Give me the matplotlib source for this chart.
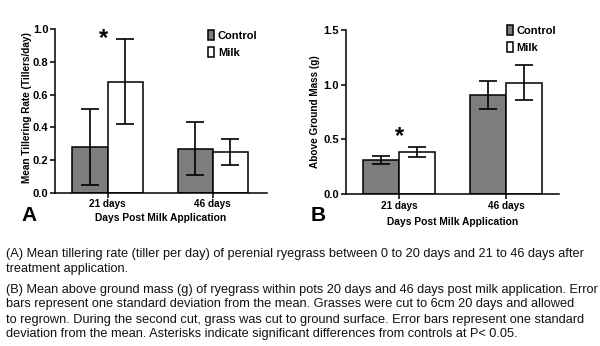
import numpy as np
import matplotlib
matplotlib.use('Agg')
import matplotlib.pyplot as plt
from matplotlib.patches import Patch

plt.rcParams['font.family'] = ['Liberation Sans', 'DejaVu Sans']

groups = ['21 days', '46 days']

# tillering rate (tillers/day)
till_control = [0.28, 0.27]
till_control_sd = [0.23, 0.16]
till_milk = [0.68, 0.25]
till_milk_sd = [0.26, 0.08]

# above ground mass (g)
mass_control = [0.31, 0.905]
mass_control_sd = [0.035, 0.127]
mass_milk = [0.385, 1.02]
mass_milk_sd = [0.043, 0.157]

caption_lines = [
    "(A) Mean tillering rate (tiller per day) of perenial ryegrass between 0 to 20 days and 21 to 46 days after",
    "treatment application.",
    "(B) Mean above ground mass (g) of ryegrass within pots 20 days and 46 days post milk application. Error",
    "bars represent one standard deviation from the mean. Grasses were cut to 6cm 20 days and allowed",
    "to regrown. During the second cut, grass was cut to ground surface. Error bars represent one standard",
    "deviation from the mean. Asterisks indicate significant differences from controls at P< 0.05.",
]
caption_baselines = [257, 272, 292.5, 307.5, 322.5, 337.5]  # pixels from top

grey = '#7d7d7d'
w = 0.335
fig = plt.figure(figsize=(6, 3.46), dpi=100)
axA = fig.add_axes([0.0917, 0.443, 0.353, 0.472])
axB = fig.add_axes([0.576, 0.439, 0.356, 0.474])


def draw(ax, ctrl, ctrl_sd, milk, milk_sd, ylim, yticks, xright, xpad):
    x = np.arange(len(groups))
    err = dict(ecolor='black', elinewidth=1.2, capsize=6.5, capthick=1.2)
    ax.bar(x - w / 2, ctrl, w, yerr=ctrl_sd, color=grey, edgecolor='black',
           linewidth=1.1, error_kw=err, zorder=2)
    ax.bar(x + w / 2, milk, w, yerr=milk_sd, color='white', edgecolor='black',
           linewidth=1.1, error_kw=err, zorder=2)
    ax.set_xlim(-0.5, xright)
    ax.set_ylim(*ylim)
    ax.set_yticks(yticks)
    ax.set_xticks(x)
    ax.set_xticklabels(groups, fontsize=7.2, fontweight='bold')
    ax.yaxis.set_major_formatter(matplotlib.ticker.FormatStrFormatter('%.1f'))
    for lab in ax.get_yticklabels():
        lab.set_fontweight('bold')
        lab.set_fontsize(8)
    for s in ['top', 'right']:
        ax.spines[s].set_visible(False)
    for s in ['left', 'bottom']:
        ax.spines[s].set_linewidth(1.1)
    ax.tick_params(direction='out', length=3.5, width=1.1, pad=1.2)
    ax.set_xlabel('Days Post Milk Application', fontsize=7.4, fontweight='bold', labelpad=xpad)


draw(axA, till_control, till_control_sd, till_milk, till_milk_sd, (0, 1.0),
     [0, 0.2, 0.4, 0.6, 0.8, 1.0], 1.514, 3)
draw(axB, mass_control, mass_control_sd, mass_milk, mass_milk_sd, (0, 1.5),
     [0, 0.5, 1.0, 1.5], 1.495, 4.5)

fig.text(0.045, 0.688, 'Mean Tillering Rate (Tillers/day)', rotation=90, ha='center',
         va='center', fontsize=7.2, fontweight='bold')
fig.text(0.525, 0.676, 'Above Ground Mass (g)', rotation=90, ha='center',
         va='center', fontsize=7.2, fontweight='bold')

# significance markers
axA.text(-0.04, 0.945, '*', ha='center', va='center', fontsize=17, fontweight='bold')
axB.text(0.0, 0.53, '*', ha='center', va='center', fontsize=17, fontweight='bold')

handles = [Patch(facecolor=grey, edgecolor='black', linewidth=1.1, label='Control'),
           Patch(facecolor='white', edgecolor='black', linewidth=1.1, label='Milk')]
for ax, anchor in [(axA, (0.338, 0.928)), (axB, (0.836, 0.943))]:
    ax.legend(handles=handles, loc='upper left', bbox_to_anchor=anchor,
              bbox_transform=fig.transFigure, frameon=False, borderpad=0,
              handlelength=0.55, handleheight=1.0, handletextpad=0.3,
              labelspacing=0.55, prop={'size': 8, 'weight': 'bold'})

fig.text(0.035, 0.378, 'A', ha='left', va='center', fontsize=15, fontweight='bold')
fig.text(0.518, 0.378, 'B', ha='left', va='center', fontsize=15, fontweight='bold')

for line, yb in zip(caption_lines, caption_baselines):
    fig.text(0.01, 1 - yb / 346, line, ha='left', va='baseline', fontsize=9.2,
             color='#111111')

fig.savefig('out.png', dpi=100)
